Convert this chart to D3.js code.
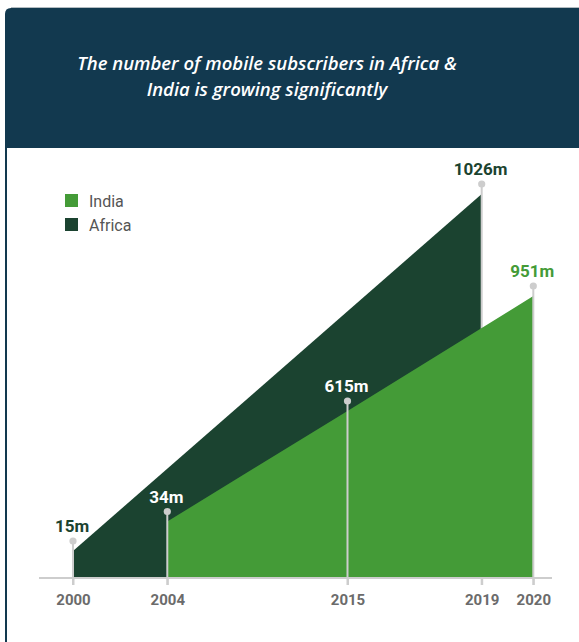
<!DOCTYPE html>
<html>
<head>
<meta charset="utf-8">
<script src="https://cdn.jsdelivr.net/npm/d3@7/dist/d3.min.js"></script>
<style>
  html, body { margin: 0; padding: 0; background: #fff; overflow: hidden; }
  svg { display: block; }
</style>
</head>
<body>
<svg id="chart" width="579" height="642"></svg>
<script>
// ---- data ----
const titleLines = ["The number of mobile subscribers in Africa &", "India is growing significantly"];
const seriesNames = ["India", "Africa"];
const africaYears = [2000, 2019];
const africaValues = [15, 1026];
const indiaYears = [2004, 2015, 2020];
const indiaValues = [34, 615, 951];
const tickYears = [2000, 2004, 2015, 2019, 2020];
const tickLabels = ["2000", "2004", "2015", "2019", "2020"];
const valueKnots = [0, 15, 34, 615, 951, 1026];

// ---- look ----
const NAVY = "#12394f";
const DARK = "#1b4330";
const GREEN = "#449b37";
const GREY = "#cdcdcd";
const W = 579, H = 642;
const baseY = 578;

const svg = d3.select("#chart");

// header band with rounded top-left corner
svg.append("path")
  .attr("d", `M5,148 V14 Q5,8 11,8 H${W} V148 Z`)
  .attr("fill", NAVY);
svg.append("line")
  .attr("x1", 11).attr("x2", W).attr("y1", 7.5).attr("y2", 7.5)
  .attr("stroke", "#b3bcc1").attr("stroke-width", 1);
svg.append("line")
  .attr("x1", 6).attr("x2", 6).attr("y1", 148).attr("y2", H)
  .attr("stroke", NAVY).attr("stroke-width", 2);

svg.append("g").selectAll("text")
  .data(titleLines)
  .join("text")
  .attr("x", 267)
  .attr("y", (d, i) => 70 + i * 26)
  .attr("text-anchor", "middle")
  .attr("fill", "#ffffff")
  .style("font-family", "'Open Sans', sans-serif")
  .style("font-style", "italic")
  .style("font-weight", 600)
  .style("font-size", "18.5px")
  .text(d => d);

// ---- scales (stylised, not to scale between labelled points) ----
const x = d3.scaleLinear()
  .domain(tickYears)
  .range([73, 167.3, 347.5, 481.7, 533.3]);
const y = d3.scaleLinear()
  .domain(valueKnots)
  .range([baseY, 551, 521.5, 411, 296, 194]);

const series = [
  { name: seriesNames[1], color: DARK, pts: africaYears.map((yr, i) => ({ year: yr, value: africaValues[i] })) },
  { name: seriesNames[0], color: GREEN, pts: indiaYears.map((yr, i) => ({ year: yr, value: indiaValues[i] })) }
];

const area = d3.area()
  .x(d => x(d.year))
  .y0(baseY)
  .y1(d => y(d.value));

const dotLift = 10;
const plot = svg.append("g");

series.forEach(s => {
  plot.append("path")
    .datum(s.pts)
    .attr("d", area)
    .attr("fill", s.color);
  const stems = plot.append("g");
  stems.selectAll("line")
    .data(s.pts)
    .join("line")
    .attr("x1", d => x(d.year)).attr("x2", d => x(d.year))
    .attr("y1", baseY + 7).attr("y2", d => y(d.value) - dotLift)
    .attr("stroke", GREY).attr("stroke-width", 2);
  stems.selectAll("circle")
    .data(s.pts)
    .join("circle")
    .attr("cx", d => x(d.year))
    .attr("cy", d => y(d.value) - dotLift)
    .attr("r", 3.6)
    .attr("fill", GREY);
});

// ---- axis ----
svg.append("line")
  .attr("x1", 39).attr("x2", 552).attr("y1", baseY).attr("y2", baseY)
  .attr("stroke", GREY).attr("stroke-width", 2);

const axis = svg.append("g")
  .attr("transform", `translate(0,${baseY})`)
  .call(d3.axisBottom(x)
    .tickValues(tickYears)
    .tickFormat((d, i) => tickLabels[i])
    .tickSize(7)
    .tickSizeOuter(0));
axis.select(".domain").remove();
axis.selectAll(".tick line").attr("stroke", GREY).attr("stroke-width", 2);
axis.selectAll(".tick text")
  .attr("y", 27).attr("dy", 0)
  .attr("fill", "#6b6b6b")
  .style("font-family", "Roboto, sans-serif")
  .style("font-weight", 700)
  .style("font-size", "15px");

// ---- value labels ----
const africaEnd = d3.max(africaYears);
const labels = [];
series.forEach(s => s.pts.forEach(p => {
  // labels that sit inside the Africa area are drawn in white
  const inside = s.name === seriesNames[0] && p.year <= africaEnd;
  labels.push({ ...p, color: inside ? "#ffffff" : s.color });
}));
svg.append("g").selectAll("text")
  .data(labels)
  .join("text")
  .attr("x", d => x(d.year) - 1)
  .attr("y", d => y(d.value) - dotLift - 9)
  .attr("text-anchor", "middle")
  .attr("fill", d => d.color)
  .style("font-family", "Roboto, sans-serif")
  .style("font-weight", 700)
  .style("font-size", "17px")
  .text(d => d.value + "m");

// ---- legend ----
const legend = svg.append("g").attr("transform", "translate(65,194)");
const legendItems = [
  { name: seriesNames[0], color: GREEN },
  { name: seriesNames[1], color: DARK }
];
const li = legend.selectAll("g")
  .data(legendItems)
  .join("g")
  .attr("transform", (d, i) => `translate(0,${i * 24})`);
li.append("rect")
  .attr("width", 13).attr("height", 13)
  .attr("fill", d => d.color);
li.append("text")
  .attr("x", 24).attr("y", 13)
  .attr("fill", "#555555")
  .style("font-family", "Roboto, sans-serif")
  .style("font-size", "16px")
  .text(d => d.name);
</script>
</body>
</html>
